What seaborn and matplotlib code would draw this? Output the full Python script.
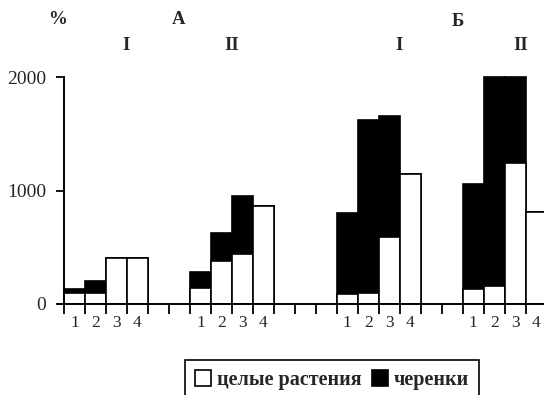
import pandas as pd
import matplotlib.pyplot as plt
import seaborn as sns
from matplotlib.patches import Patch

# groups: A-I, A-II, Б-I, Б-II ; bars 1..4 in each
groups = ["A-I", "A-II", "Б-I", "Б-II"]
bar_labels = ["1", "2", "3", "4"]
whole = [[100, 100, 410, 410],
         [140, 380, 445, 860],
         [90, 100, 595, 1145],
         [135, 155, 1240, 815]]
total = [[130, 203, 410, 410],
         [282, 622, 955, 860],
         [805, 1620, 1662, 1145],
         [1057, 2005, 2005, 815]]
gaps = [0, 2, 3, 2]  # empty slots before each group

rows = []
order = []
blank = 0
for g, n_gap in enumerate(gaps):
    for _ in range(n_gap):
        blank += 1
        order.append(" " * blank)
    for b, lab in enumerate(bar_labels):
        key = groups[g] + "-" + lab
        order.append(key)
        rows.append({"bar": key, "label": lab, "whole": whole[g][b], "total": total[g][b]})
df = pd.DataFrame(rows)

sns.set_style("white")
plt.rcParams["font.family"] = ["Liberation Serif", "DejaVu Serif"]

fig = plt.figure(figsize=(5.44, 3.95), dpi=100)
ax = fig.add_axes([57.7 / 544, 91 / 395, 489 / 544, 232.5 / 395])

lw = 1.2
sns.barplot(data=df, x="bar", y="total", order=order, color="black", width=1,
            saturation=1, edgecolor="black", linewidth=lw, ax=ax)
sns.barplot(data=df, x="bar", y="whole", order=order, color="white", width=1,
            saturation=1, edgecolor="black", linewidth=lw, ax=ax)

ax.set_xlim(-0.8, 22.5)
ax.set_ylim(0, 2050)
ax.set_xlabel("")
ax.set_ylabel("")

for s in ["top", "right"]:
    ax.spines[s].set_visible(False)
ax.spines["left"].set_position(("data", -0.5))
ax.spines["left"].set_bounds(0, 2000)
ax.spines["left"].set_linewidth(1.4)
ax.spines["bottom"].set_linewidth(1.4)
ax.spines["left"].set_color("black")
ax.spines["bottom"].set_color("black")

ax.set_yticks([0, 1000, 2000])
ax.set_yticklabels(["0", "1000", "2000"], fontsize=14)
ax.tick_params(axis="y", direction="out", length=6, width=1.3, pad=7, color="black", left=True)

pos = [order.index(k) for k in df["bar"]]
ax.set_xticks(pos)
ax.set_xticklabels(df["label"], fontsize=12.5)
ax.set_xticks([p - 0.5 for p in range(len(order) + 1)], minor=True)
ax.tick_params(axis="x", which="major", length=0, pad=8)
ax.tick_params(axis="x", which="minor", direction="out", length=7, width=1.3,
               color="black", bottom=True)

# headings
hfont = {"fontsize": 13.5, "fontweight": "bold", "ha": "center", "va": "center"}
fig.text(57 / 544, 1 - 19 / 395, "%", **hfont)
fig.text(179 / 544, 1 - 19 / 395, "A", **hfont)
fig.text(458 / 544, 1 - 21 / 395, "Б", **hfont)
for x, t in [(126, "I"), (232, "II"), (399, "I"), (521, "II")]:
    fig.text(x / 544, 1 - 45 / 395, t, **hfont)

handles = [Patch(facecolor="white", edgecolor="black", linewidth=1.2),
           Patch(facecolor="black", edgecolor="black", linewidth=1.2)]
leg = fig.legend(handles, ["целые растения", "черенки"], loc="upper left",
                 bbox_to_anchor=(185 / 544, 1 - 360 / 395), ncol=2, frameon=True,
                 fancybox=False, edgecolor="black", framealpha=1, borderaxespad=0,
                 handlelength=0.8, handleheight=0.8, handletextpad=0.3,
                 columnspacing=0.5, borderpad=0.5,
                 prop={"family": "Liberation Serif", "weight": "bold", "size": 14.5})
leg.get_frame().set_linewidth(1.2)

fig.savefig("out.png", dpi=100)
